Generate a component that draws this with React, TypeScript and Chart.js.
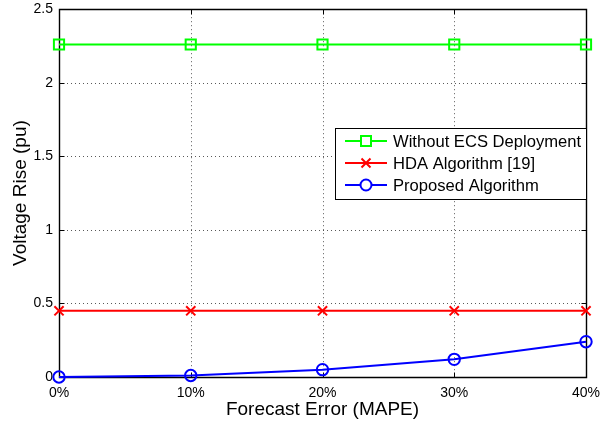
import React, { useEffect, useRef } from "react";
import { Chart, registerables } from "chart.js";

Chart.register(...registerables);

const xValues = [0, 10, 20, 30, 40];
const withoutECS = [2.26, 2.26, 2.26, 2.26, 2.26];
const hdaAlgorithm = [0.45, 0.45, 0.45, 0.45, 0.45];
const proposed = [0.0, 0.01, 0.05, 0.12, 0.24];
const yTicks = [0, 0.5, 1, 1.5, 2, 2.5];
const xTicks = [0, 10, 20, 30, 40];
const seriesNames = ["Without ECS Deployment", "HDA Algorithm [19]", "Proposed Algorithm"];

const FONT = "'Liberation Sans', Arial, Helvetica, sans-serif";
const GREEN = "#00ff00";
const RED = "#ff0000";
const BLUE = "#0000ff";

function drawMarker(ctx: CanvasRenderingContext2D, kind: string, x: number, y: number, color: string) {
  ctx.save();
  ctx.strokeStyle = color;
  ctx.lineWidth = 2;
  ctx.beginPath();
  if (kind === "rect") {
    ctx.rect(x - 5, y - 5, 10, 10);
    ctx.fillStyle = "#fff";
    ctx.fill();
  } else if (kind === "cross") {
    ctx.moveTo(x - 4.5, y - 4.5);
    ctx.lineTo(x + 4.5, y + 4.5);
    ctx.moveTo(x + 4.5, y - 4.5);
    ctx.lineTo(x - 4.5, y + 4.5);
  } else {
    ctx.arc(x, y, 5.5, 0, Math.PI * 2);
    ctx.fillStyle = "#fff";
    ctx.fill();
  }
  ctx.stroke();
  ctx.restore();
}

const framePlugin = {
  id: "frame",
  beforeDatasetsDraw(chart: any) {
    const { ctx, chartArea } = chart;
    const { left, right, top, bottom } = chartArea;
    const xs = chart.scales.x;
    const ys = chart.scales.y;
    ctx.save();
    ctx.strokeStyle = "rgba(0,0,0,0.65)";
    ctx.lineWidth = 1;
    ctx.setLineDash([1, 3]);
    for (const t of xTicks) {
      const px = Math.round(xs.getPixelForValue(t)) + 0.5;
      if (px <= left + 1 || px >= right - 1) continue;
      ctx.beginPath();
      ctx.moveTo(px, top);
      ctx.lineTo(px, bottom);
      ctx.stroke();
    }
    for (const t of yTicks) {
      const py = Math.round(ys.getPixelForValue(t)) + 0.5;
      if (py <= top + 1 || py >= bottom - 1) continue;
      ctx.beginPath();
      ctx.moveTo(left, py);
      ctx.lineTo(right, py);
      ctx.stroke();
    }
    ctx.setLineDash([]);
    ctx.strokeStyle = "#000";
    ctx.lineWidth = 1.4;
    const L = Math.round(left) + 0.5;
    const R = Math.round(right) + 0.5;
    const T = Math.round(top) + 0.5;
    const B = Math.round(bottom) + 0.5;
    ctx.beginPath();
    ctx.rect(L, T, R - L, B - T);
    ctx.stroke();
    ctx.lineWidth = 1;
    const tl = 5;
    ctx.beginPath();
    for (const t of xTicks) {
      const px = Math.round(xs.getPixelForValue(t)) + 0.5;
      ctx.moveTo(px, B);
      ctx.lineTo(px, B - tl);
      ctx.moveTo(px, T);
      ctx.lineTo(px, T + tl);
    }
    for (const t of yTicks) {
      const py = Math.round(ys.getPixelForValue(t)) + 0.5;
      ctx.moveTo(L, py);
      ctx.lineTo(L + tl, py);
      ctx.moveTo(R, py);
      ctx.lineTo(R - tl, py);
    }
    ctx.stroke();
    ctx.restore();
  },
  afterDraw(chart: any) {
    const { ctx } = chart;
    ctx.save();
    const bx = 335.5, by = 128.5, bw = 251, bh = 71;
    ctx.fillStyle = "#fff";
    ctx.fillRect(bx, by, bw, bh);
    ctx.strokeStyle = "#000";
    ctx.lineWidth = 1;
    ctx.strokeRect(bx, by, bw, bh);
    const rows = [141, 163, 185];
    const colors = [GREEN, RED, BLUE];
    const kinds = ["rect", "cross", "circle"];
    ctx.font = `16.6px ${FONT}`;
    ctx.textBaseline = "middle";
    ctx.textAlign = "left";
    rows.forEach((ry, i) => {
      ctx.strokeStyle = colors[i];
      ctx.lineWidth = 2;
      ctx.beginPath();
      ctx.moveTo(345, ry);
      ctx.lineTo(387, ry);
      ctx.stroke();
      drawMarker(ctx, kinds[i], 366, ry, colors[i]);
      ctx.fillStyle = "#000";
      ctx.fillText(seriesNames[i], 393, ry + 1);
    });
    ctx.restore();
  },
};

export default function App() {
  const ref = useRef<HTMLCanvasElement | null>(null);
  useEffect(() => {
    document.body.style.margin = "0";
    const canvas = ref.current;
    if (!canvas) return;
    const mk = (vals: number[]) => xValues.map((x, i) => ({ x, y: vals[i] }));
    const chart = new Chart(canvas, {
      type: "line",
      data: {
        datasets: [
          {
            label: seriesNames[0],
            data: mk(withoutECS),
            borderColor: GREEN,
            backgroundColor: "#fff",
            borderWidth: 2,
            pointStyle: "rect",
            pointRadius: 7.2,
            pointBorderWidth: 2,
            pointBorderColor: GREEN,
            pointBackgroundColor: "rgba(255,255,255,0)",
            clip: false as any,
          },
          {
            label: seriesNames[1],
            data: mk(hdaAlgorithm),
            borderColor: RED,
            backgroundColor: RED,
            borderWidth: 2,
            pointStyle: "crossRot",
            pointRadius: 6.5,
            pointBorderWidth: 2,
            pointBorderColor: RED,
            clip: false as any,
          },
          {
            label: seriesNames[2],
            data: mk(proposed),
            borderColor: BLUE,
            backgroundColor: "rgba(255,255,255,0)",
            borderWidth: 2,
            pointStyle: "circle",
            pointRadius: 5.7,
            pointBorderWidth: 2,
            pointBorderColor: BLUE,
            pointBackgroundColor: "rgba(255,255,255,0)",
            clip: false as any,
          },
        ],
      },
      options: {
        responsive: false,
        animation: false,
        layout: { padding: { left: 0, right: 14, top: 7, bottom: 0 } },
        plugins: { legend: { display: false }, tooltip: { enabled: false } },
        elements: { line: { tension: 0 } },
        scales: {
          x: {
            type: "linear",
            min: 0,
            max: 40,
            afterBuildTicks: (s: any) => {
              s.ticks = xTicks.map((v) => ({ value: v }));
            },
            afterFit: (s: any) => {
              s.height = 49;
              s.paddingLeft = 0;
              s.paddingRight = 0;
            },
            ticks: {
              color: "#000",
              font: { family: FONT, size: 14 },
              padding: 8,
              maxRotation: 0,
              callback: (v: any) => `${v}%`,
            },
            grid: { display: false, drawTicks: false, tickLength: 0 },
            border: { display: false },
            title: {
              display: true,
              text: "Forecast Error (MAPE)",
              color: "#000",
              font: { family: FONT, size: 19 },
              padding: { top: 0, bottom: 5 },
            },
          },
          y: {
            type: "linear",
            min: 0,
            max: 2.5,
            afterBuildTicks: (s: any) => {
              s.ticks = yTicks.map((v) => ({ value: v }));
            },
            afterFit: (s: any) => {
              s.width = 59;
              s.paddingTop = 0;
              s.paddingBottom = 0;
            },
            ticks: {
              color: "#000",
              font: { family: FONT, size: 14 },
              padding: 6,
              callback: (v: any) => `${v}`,
            },
            grid: { display: false, drawTicks: false, tickLength: 0 },
            border: { display: false },
            title: {
              display: true,
              text: "Voltage Rise (pu)",
              color: "#000",
              font: { family: FONT, size: 19 },
              padding: { top: 9, bottom: 0 },
            },
          },
        },
      },
      plugins: [framePlugin],
    });
    return () => chart.destroy();
  }, []);
  return (
    <div style={{ position: "absolute", left: 0, top: 0, width: 600, height: 426, background: "#fff" }}>
      <canvas ref={ref} width={600} height={426} style={{ display: "block", width: 600, height: 426 }} />
    </div>
  );
}
